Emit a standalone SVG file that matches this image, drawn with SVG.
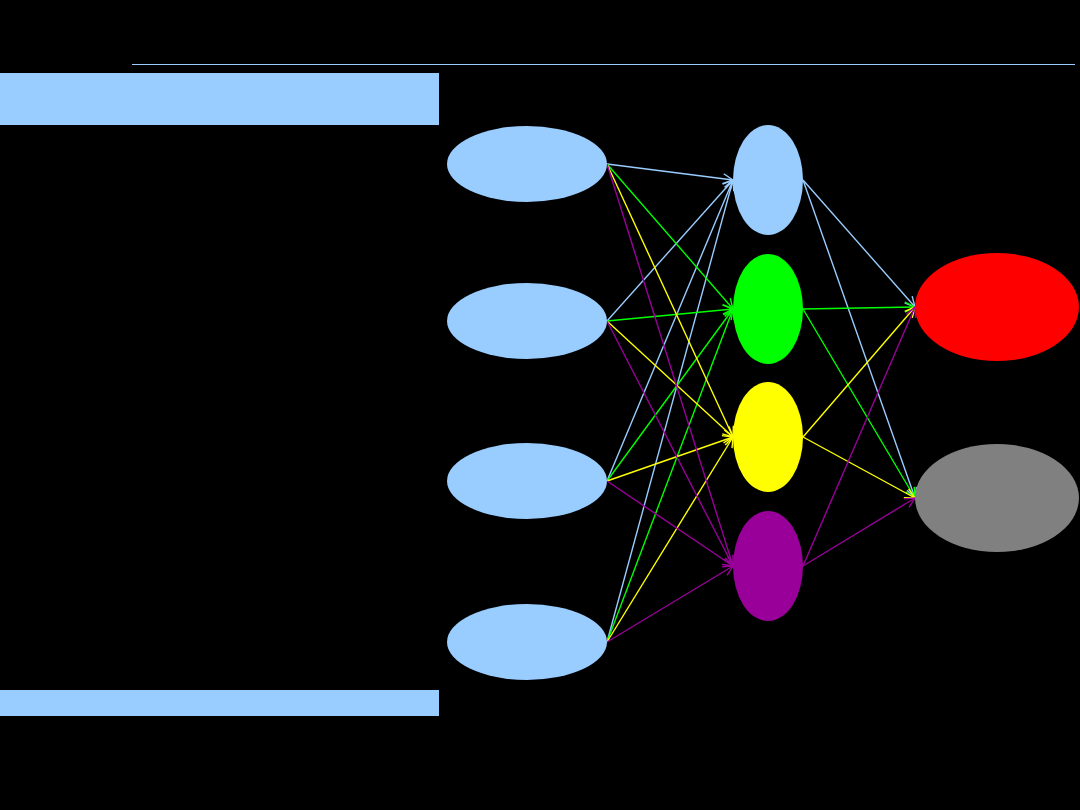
<svg xmlns="http://www.w3.org/2000/svg" width="1080" height="810" viewBox="0 0 1080 810">
<style>
.c line{stroke-width:1.4;fill:none}
.b{stroke:#99ccff}.g{stroke:#00ff00}.y{stroke:#ffff00}.p{stroke:#990099}
</style>
<defs>
<marker id="mb" viewBox="0 0 12 12" refX="11" refY="6" markerWidth="12" markerHeight="12" markerUnits="userSpaceOnUse" orient="auto"><path d="M1,1 L11,6 L1,11" fill="none" stroke="#99ccff" stroke-width="1.4"/></marker>
<marker id="mg" viewBox="0 0 12 12" refX="11" refY="6" markerWidth="12" markerHeight="12" markerUnits="userSpaceOnUse" orient="auto"><path d="M1,1 L11,6 L1,11" fill="none" stroke="#00ff00" stroke-width="1.4"/></marker>
<marker id="my" viewBox="0 0 12 12" refX="11" refY="6" markerWidth="12" markerHeight="12" markerUnits="userSpaceOnUse" orient="auto"><path d="M1,1 L11,6 L1,11" fill="none" stroke="#ffff00" stroke-width="1.4"/></marker>
<marker id="mp" viewBox="0 0 12 12" refX="11" refY="6" markerWidth="12" markerHeight="12" markerUnits="userSpaceOnUse" orient="auto"><path d="M1,1 L11,6 L1,11" fill="none" stroke="#990099" stroke-width="1.4"/></marker>
</defs>
<rect width="1080" height="810" fill="#000"/>
<line x1="132" y1="64.5" x2="1075" y2="64.5" stroke="#99ccff" stroke-width="1"/>
<rect x="0" y="73" width="439" height="52" fill="#99ccff"/>
<rect x="0" y="690" width="439" height="26" fill="#99ccff"/>
<g class="c" id="connectors">
<line class="b" x1="607" y1="164" x2="733" y2="180" marker-end="url(#mb)"/>
<line class="b" x1="607" y1="321" x2="733" y2="180" marker-end="url(#mb)"/>
<line class="b" x1="607" y1="481" x2="733" y2="180" marker-end="url(#mb)"/>
<line class="b" x1="607" y1="642" x2="733" y2="180" marker-end="url(#mb)"/>
<line class="g" x1="607" y1="164" x2="733" y2="309" marker-end="url(#mg)"/>
<line class="g" x1="607" y1="321" x2="733" y2="309" marker-end="url(#mg)"/>
<line class="g" x1="607" y1="481" x2="733" y2="309" marker-end="url(#mg)"/>
<line class="g" x1="607" y1="642" x2="733" y2="309" marker-end="url(#mg)"/>
<line class="y" x1="607" y1="164" x2="733" y2="437" marker-end="url(#my)"/>
<line class="y" x1="607" y1="321" x2="733" y2="437" marker-end="url(#my)"/>
<line class="y" x1="607" y1="481" x2="733" y2="437" marker-end="url(#my)"/>
<line class="y" x1="607" y1="642" x2="733" y2="437" marker-end="url(#my)"/>
<line class="p" x1="607" y1="164" x2="733" y2="566" marker-end="url(#mp)"/>
<line class="p" x1="607" y1="321" x2="733" y2="566" marker-end="url(#mp)"/>
<line class="p" x1="607" y1="481" x2="733" y2="566" marker-end="url(#mp)"/>
<line class="p" x1="607" y1="642" x2="733" y2="566" marker-end="url(#mp)"/>
<line class="b" x1="803" y1="180" x2="915" y2="307" marker-end="url(#mb)"/>
<line class="b" x1="803" y1="180" x2="915" y2="498" marker-end="url(#mb)"/>
<line class="g" x1="803" y1="309" x2="915" y2="307" marker-end="url(#mg)"/>
<line class="g" x1="803" y1="309" x2="915" y2="498" marker-end="url(#mg)"/>
<line class="y" x1="803" y1="437" x2="915" y2="307" marker-end="url(#my)"/>
<line class="y" x1="803" y1="437" x2="915" y2="498" marker-end="url(#my)"/>
<line class="p" x1="803" y1="566" x2="915" y2="307" marker-end="url(#mp)"/>
<line class="p" x1="803" y1="566" x2="915" y2="498" marker-end="url(#mp)"/>
</g>
<g id="in1"><ellipse cx="527" cy="164" rx="80" ry="38" fill="#99ccff"/></g>
<g id="in2"><ellipse cx="527" cy="321" rx="80" ry="38" fill="#99ccff"/></g>
<g id="in3"><ellipse cx="527" cy="481" rx="80" ry="38" fill="#99ccff"/></g>
<g id="in4"><ellipse cx="527" cy="642" rx="80" ry="38" fill="#99ccff"/></g>
<g id="h1"><ellipse cx="768" cy="180" rx="35" ry="55" fill="#99ccff"/></g>
<g id="h2"><ellipse cx="768" cy="309" rx="35" ry="55" fill="#00ff00"/></g>
<g id="h3"><ellipse cx="768" cy="437" rx="35" ry="55" fill="#ffff00"/></g>
<g id="h4"><ellipse cx="768" cy="566" rx="35" ry="55" fill="#990099"/></g>
<g id="out1"><ellipse cx="997" cy="307" rx="82" ry="54" fill="#ff0000"/></g>
<g id="out2"><ellipse cx="997" cy="498" rx="82" ry="54" fill="#808080"/></g>
</svg>
